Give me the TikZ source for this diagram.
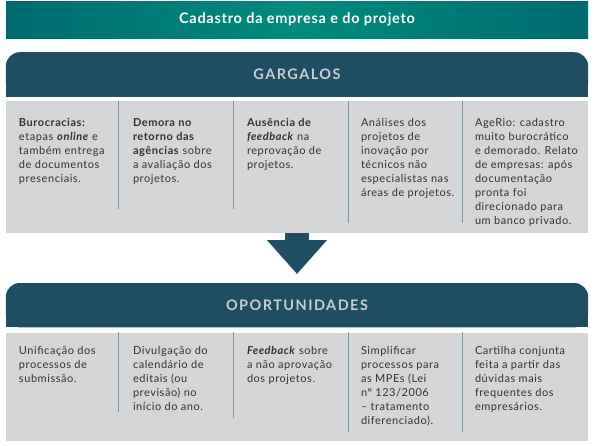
\documentclass[tikz,border=0pt]{standalone}
\usepackage{fontspec}
\setmainfont[LetterSpace=5]{Lato}
\newfontfamily\capsfont[LetterSpace=10]{Lato}
\newfontfamily\barfont[LetterSpace=5]{Lato}
\usepackage{tikz}
\usetikzlibrary{arrows.meta,positioning,calc,backgrounds}
\definecolor{tealdk}{RGB}{0,106,112}
\definecolor{tealmd}{RGB}{0,140,124}
\definecolor{navy}{RGB}{31,77,98}
\definecolor{capgray}{RGB}{200,205,209}
\definecolor{panelgray}{RGB}{211,213,215}
\definecolor{rulegray}{RGB}{132,150,160}
\definecolor{txtgray}{RGB}{50,50,50}
\tikzset{
  topbar/.style={rectangle,minimum width=582pt,minimum height=37pt,inner sep=0pt,
    left color=tealdk,right color=tealdk,middle color=tealmd,text=white,
    font=\barfont\bfseries\fontsize{14.5}{16}\selectfont},
  hdr/.style={rectangle,minimum width=582pt,minimum height=44pt,inner sep=0pt,
    text=capgray,font=\capsfont\bfseries\fontsize{14.5}{16}\selectfont},
  panel/.style={rectangle,fill=panelgray,minimum width=582pt,inner sep=0pt},
  col/.style={anchor=north west,align=left,inner sep=0pt,text=txtgray,
    font=\fontsize{11}{14}\selectfont},
  divl/.style={rulegray,line width=0.8pt},
  bigar/.style={navy,line width=24pt,-{Triangle[length=34pt,width=58pt]}},
}

\begin{document}
\begin{tikzpicture}[x=1pt,y=1pt]
  \useasboundingbox (0,0) rectangle (595,-445);
  \node[topbar] (cad) at (297,-19.5) {Cadastro da empresa e do projeto};
  \node[hdr,below=14pt of cad] (garg) {GARGALOS};
  \node[panel,minimum height=132pt,below=4pt of garg] (p1) {};
  \node[hdr,below=50pt of p1] (opor) {OPORTUNIDADES};
  \node[panel,minimum height=108pt,below=5pt of opor] (p2) {};
  % header bands, rounded on top only
  \begin{scope}[on background layer]
    \fill[navy,rounded corners=14pt] (garg.south west) rectangle (garg.north east);
    \fill[navy] (garg.south west) rectangle (garg.east);
    \fill[navy,rounded corners=14pt] (opor.south west) rectangle (opor.north east);
    \fill[navy] (opor.south west) rectangle (opor.east);
  \end{scope}
  % gargalos
  \node[col] (g1) at ($(p1.north west)+(13,-18)$) {\textbf{Burocracias:}\\ etapas \textbf{\textit{online}} e\\ também entrega\\ de documentos\\ presenciais.};
  \node[col] (g2) at ($(p1.north west)+(127,-18)$) {\textbf{Demora no}\\ \textbf{retorno das}\\ \textbf{agências} sobre\\ a avaliação dos\\ projetos.};
  \node[col] (g3) at ($(p1.north west)+(241,-18)$) {\textbf{Ausência de}\\ \textbf{\textit{feedback}} na\\ reprovação de\\ projetos.};
  \node[col] (g4) at ($(p1.north west)+(355,-18)$) {Análises dos\\ projetos de\\ inovação por\\ técnicos não\\ especialistas nas\\ áreas de projetos.};
  \node[col] (g5) at ($(p1.north west)+(469,-18)$) {AgeRio: cadastro\\ muito burocrático\\ e demorado. Relato\\ de empresas: após\\ documentação\\ pronta foi\\ direcionado para\\ um banco privado.};
  \draw[divl] ($(p1.north west)+(113,0)$) -- ++(0,-108);
  \draw[divl] ($(p1.north west)+(228,0)$) -- ++(0,-108);
  \draw[divl] ($(p1.north west)+(343,0)$) -- ++(0,-122);
  \draw[divl] ($(p1.north west)+(457,0)$) -- ++(0,-122);
  % oportunidades
  \node[col] (o1) at ($(p2.north west)+(13,-14)$) {Unificação dos\\ processos de\\ submissão.};
  \node[col] (o2) at ($(p2.north west)+(127,-14)$) {Divulgação do\\ calendário de\\ editais (ou\\ previsão) no\\ início do ano.};
  \node[col] (o3) at ($(p2.north west)+(241,-14)$) {\textbf{\textit{Feedback}} sobre\\ a não aprovação\\ dos projetos.};
  \node[col] (o4) at ($(p2.north west)+(355,-14)$) {Simplificar\\ processos para\\ as MPEs (Lei\\ nº 123/2006\\ – tratamento\\ diferenciado).};
  \node[col] (o5) at ($(p2.north west)+(469,-14)$) {Cartilha conjunta\\ feita a partir das\\ dúvidas mais\\ frequentes dos\\ empresários.};
  \draw[divl] ($(p2.north west)+(113,0)$) -- ++(0,-80);
  \draw[divl] ($(p2.north west)+(228,0)$) -- ++(0,-86);
  \draw[divl] ($(p2.north west)+(343,0)$) -- ++(0,-100);
  \draw[divl] ($(p2.north west)+(457,0)$) -- ++(0,-100);
  % arrow between the two blocks
  \draw[bigar] (p1.south) -- ([yshift=9pt]opor.north);
\end{tikzpicture}
\end{document}
